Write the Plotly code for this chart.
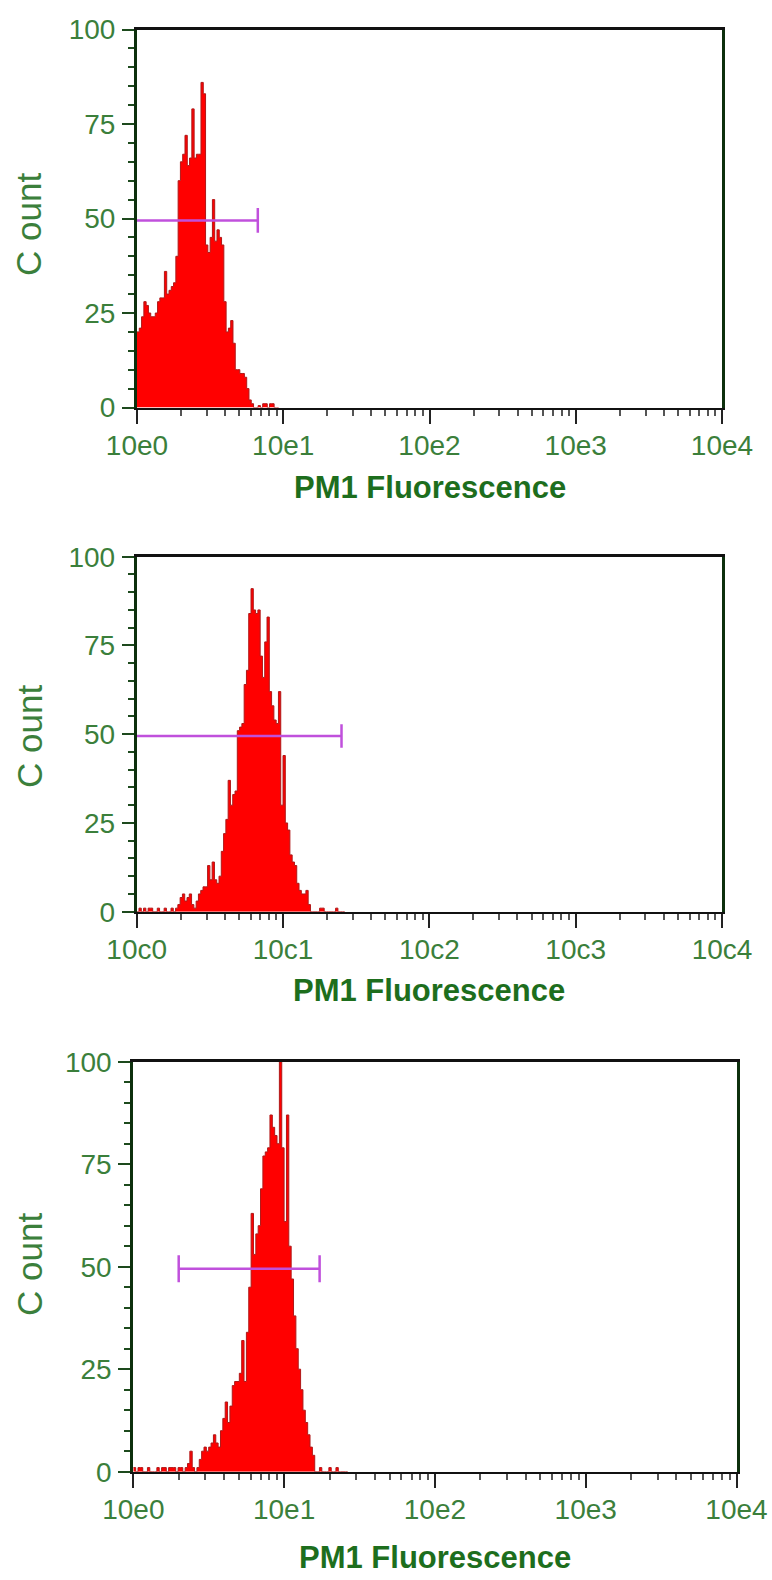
import plotly.graph_objects as go

# ---------------- data ----------------
CHANNELS_PER_DECADE = 64          # log-channel histogram resolution

x_tick_values = [1, 10, 100, 1000, 10000]
x_tick_labels_top = ["10e0", "10e1", "10e2", "10e3", "10e4"]
x_tick_labels_mid = ["10c0", "10c1", "10c2", "10c3", "10c4"]
x_tick_labels_bot = ["10e0", "10e1", "10e2", "10e3", "10e4"]
y_tick_values = [0, 25, 50, 75, 100]
y_tick_labels = ["0", "25", "50", "75", "100"]

x_title = "PM1 Fluorescence"
y_title = "C ount"

# counts per log channel, starting at channel 0 (=10e0)
counts_top = [20, 21, 24, 28, 27, 25, 24, 24, 25, 28, 29, 29, 36, 30, 31, 32, 33, 40,
              60, 65, 67, 72, 64, 66, 79, 66, 67, 67, 86, 83, 43, 41, 45, 55, 44, 47,
              45, 43, 28, 20, 21, 23, 17, 10, 10, 9, 9, 8, 5, 2, 1, 0, 0, 0.5, 0, 1,
              1, 0, 1, 1, 0, 0]

counts_mid = [0, 1, 0, 1, 0, 1, 1, 0, 0, 1, 0, 0, 1, 0, 0, 1, 0,
              1, 2, 4, 5, 3, 4, 5, 2, 1, 3, 5, 6, 7, 7,
              13, 9, 14, 9, 8, 10, 17, 22, 26, 37, 30, 33, 34, 51, 52, 53, 64, 68, 84, 91,
              85, 84, 85, 72, 66, 76, 83, 62, 58, 54, 53, 62, 30, 44, 25, 23, 16, 14, 13, 8,
              6, 5, 5, 6, 2, 0, 0, 0, 0, 1, 1, 0, 0, 0, 0, 0, 1, 0, 0, 0]

counts_bot = [1, 0, 1, 1, 0, 0, 1, 0, 0, 0, 1, 0, 1, 1, 0, 1, 1, 1, 0, 1,
              1, 0, 1, 2, 5, 1, 0, 1, 3, 5, 6, 5, 6, 7, 9, 7, 6, 10, 13, 17,
              12, 16, 21, 22, 22, 24, 32, 22, 34, 45, 63, 53, 58, 60, 69, 77, 78, 79, 87, 84,
              82, 80, 100, 79, 61, 87, 55, 47, 38, 30, 25, 20, 15, 12, 9, 6, 4, 0, 0, 1,
              0, 0, 0, 1, 0, 0, 1, 0, 0, 0, 0]

# marker (gate) ranges in fluorescence units, drawn at count level marker_level
marker_top = [1.0, 6.7]
marker_mid = [1.0, 25.1]
marker_bot = [2.0, 17.2]
marker_level = 49.5
marker_cap = 3.3

# ---------------- styling ----------------
W, H = 772, 1580
panels = [
    # (x0, x1, ytop, ybottom) in pixels
    dict(px=(137, 722), py=(29.5, 407.5), counts=counts_top, marker=marker_top,
         labels=x_tick_labels_top, caps=(False, True), ytitle_y=225, xtitle_y=488),
    dict(px=(136.7, 722), py=(556.7, 911.7), counts=counts_mid, marker=marker_mid,
         labels=x_tick_labels_mid, caps=(False, True), ytitle_y=737, xtitle_y=990),
    dict(px=(133.3, 736.5), py=(1061.7, 1471.7), counts=counts_bot, marker=marker_bot,
         labels=x_tick_labels_bot, caps=(True, True), ytitle_y=1265, xtitle_y=1557),
]

TICK_FONT = dict(family="Liberation Sans, Arial", size=28, color="#3b7f3b")
RED = "#ff0000"
RED_EDGE = "#b01818"
MAGENTA = "#c050dc"

minor_x = [m * 10 ** k for k in range(4) for m in range(2, 10)]

fig = go.Figure()
annotations = []

for i, p in enumerate(panels, start=1):
    xa = "x" if i == 1 else f"x{i}"
    ya = "y" if i == 1 else f"y{i}"
    counts = p["counts"]
    n = len(counts)
    edges = [10 ** (c / CHANNELS_PER_DECADE) for c in range(n + 1)]
    ys = list(counts) + [counts[-1]]

    fig.add_trace(go.Scatter(
        x=edges, y=ys, mode="lines", line=dict(shape="hv", color=RED_EDGE, width=1),
        fill="tozeroy", fillcolor=RED, xaxis=xa, yaxis=ya, showlegend=False,
        hoverinfo="skip"))

    lo, hi = p["marker"]
    mx = [lo, hi]
    my = [marker_level, marker_level]
    if p["caps"][0]:
        mx += [None, lo, lo]
        my += [None, marker_level - marker_cap, marker_level + marker_cap]
    if p["caps"][1]:
        mx += [None, hi, hi]
        my += [None, marker_level - marker_cap, marker_level + marker_cap]
    fig.add_trace(go.Scatter(
        x=mx, y=my, mode="lines", line=dict(color=MAGENTA, width=2.5),
        xaxis=xa, yaxis=ya, showlegend=False, hoverinfo="skip", cliponaxis=False))

    x0, x1 = p["px"]
    yt, yb = p["py"]
    xdom = [x0 / W, x1 / W]
    ydom = [1 - yb / H, 1 - yt / H]

    fig.update_layout({
        ("xaxis" if i == 1 else f"xaxis{i}"): dict(
            domain=xdom, anchor=ya, type="log", range=[0, 4], automargin=False,
            tickmode="array", tickvals=x_tick_values, ticktext=p["labels"],
            ticks="outside", ticklen=14, tickwidth=2, tickcolor="#222222",
            tickfont=TICK_FONT, ticklabelstandoff=-3,
            showline=True, linecolor="#111111", linewidth=2.5, mirror=True,
            showgrid=False, zeroline=False,
            minor=dict(tickmode="array", tickvals=minor_x, ticks="outside",
                       ticklen=6, tickwidth=2, tickcolor="#555555", showgrid=False),
        ),
        ("yaxis" if i == 1 else f"yaxis{i}"): dict(
            domain=ydom, anchor=xa, range=[0, 100], automargin=False,
            tickmode="array", tickvals=y_tick_values, ticktext=y_tick_labels,
            ticks="outside", ticklen=12, tickwidth=2, tickcolor="#1d4a1d",
            tickfont=TICK_FONT, ticklabelstandoff=1,
            showline=True, linecolor="#0d300d", linewidth=3, mirror=True,
            showgrid=False, zeroline=False,
            minor=dict(dtick=5, ticks="outside", ticklen=6, tickwidth=2,
                       tickcolor="#1d4a1d", showgrid=False),
        ),
    })

    annotations.append(dict(
        text=f"<b>{x_title}</b>", xref="paper", yref="paper",
        x=(x0 + x1) / 2 / W, y=1 - p["xtitle_y"] / H, xanchor="center", yanchor="middle",
        showarrow=False,
        font=dict(family="Liberation Sans, Arial", size=31, color="#1d6e1d")))
    annotations.append(dict(
        text=y_title, xref="paper", yref="paper", textangle=-90,
        x=29 / W, y=1 - p["ytitle_y"] / H, xanchor="center", yanchor="middle",
        showarrow=False,
        font=dict(family="Liberation Sans, Arial", size=35, color="#3b7f3b")))

fig.update_layout(
    width=W, height=H, margin=dict(l=0, r=0, t=0, b=0, autoexpand=False),
    paper_bgcolor="white", plot_bgcolor="white",
    annotations=annotations, showlegend=False,
)

fig.write_html("out.html",
               config={"displayModeBar": False, "staticPlot": True},
               post_script="document.body.style.margin='0';"
                           "document.body.style.overflow='hidden';")
